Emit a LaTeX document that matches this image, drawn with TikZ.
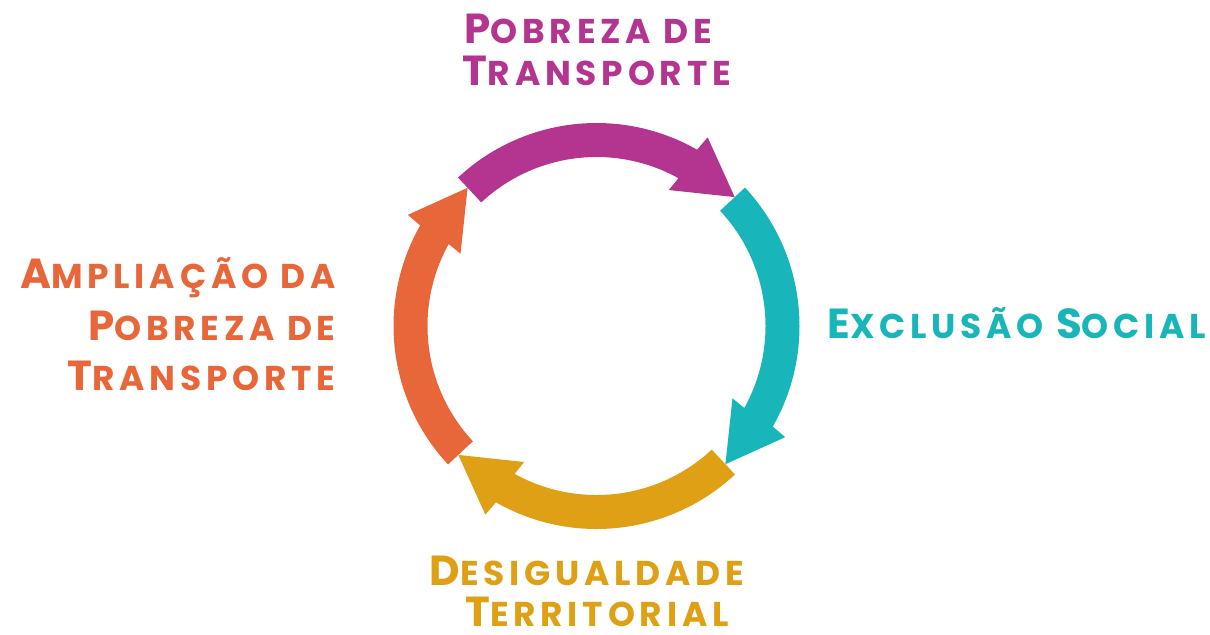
\documentclass[tikz,border=0pt]{standalone}
\usepackage{fontspec}
\setmainfont{Poppins}
\definecolor{cpur}{HTML}{B4358F}
\definecolor{ccya}{HTML}{18B6BB}
\definecolor{cgol}{HTML}{E0A016}
\definecolor{cora}{HTML}{E8673A}
\newcommand\Cap[1]{{\fontsize{21}{24}\selectfont #1}}
\tikzset{
  lbl/.style={inner sep=0pt, font=\bfseries\addfontfeatures{LetterSpace=14}\fontsize{17.2}{20}\selectfont},
}
\begin{document}
\begin{tikzpicture}[x=0.5pt,y=-0.5pt]
\useasboundingbox (0,0) rectangle (1210,634);
\begin{scope}[shift={(596.5,326)}, yscale=-1]
  \foreach \r/\c in {0/cpur,90/ccya,180/cgol,270/cora}{
    \fill[\c, rotate=\r] (133:203) arc[start angle=133, end angle=60.3, radius=203]
      -- (59.5:219) -- (43:189) -- (62:154) -- (61:169)
      arc[start angle=61, end angle=133, radius=169] -- cycle;
  }
\end{scope}
% top label
\node[lbl, text=cpur, anchor=base] (t1) at (588,43) {\Cap{P}OBREZA DE};
\node[lbl, text=cpur, anchor=base] (t2) at (597,85) {\Cap{T}RANSPORTE};
% right label
\node[lbl, text=ccya, anchor=base west] (r1) at (827,338) {\Cap{E}XCLUSÃO \Cap{S}OCIAL};
% bottom label
\node[lbl, text=cgol, anchor=base] (b1) at (587,585) {\Cap{D}ESIGUALDADE};
\node[lbl, text=cgol, anchor=base] (b2) at (597,626) {\Cap{T}ERRITORIAL};
% left label
\node[lbl, text=cora, anchor=base east] (l1) at (336,288) {\Cap{A}MPLIAÇÃO DA};
\node[lbl, text=cora, anchor=base east] (l2) at (336,340) {\Cap{P}OBREZA DE};
\node[lbl, text=cora, anchor=base east] (l3) at (336,390) {\Cap{T}RANSPORTE};
\end{tikzpicture}
\end{document}
